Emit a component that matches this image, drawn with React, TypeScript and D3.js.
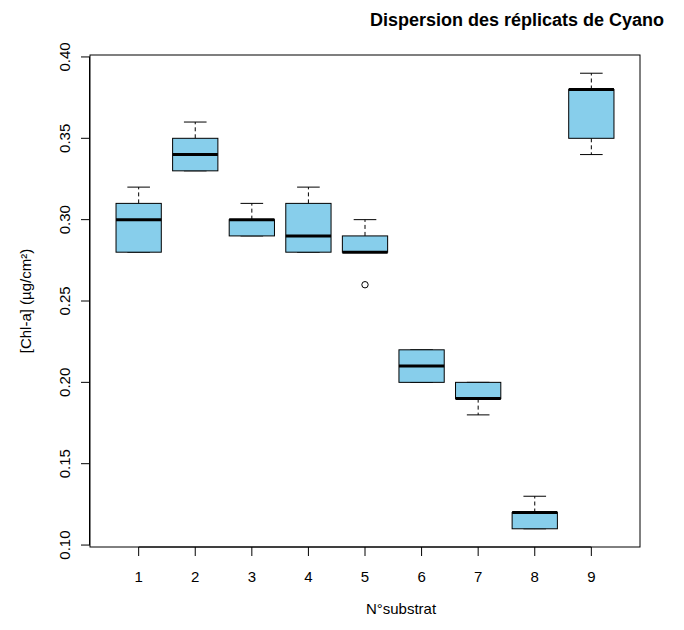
import * as d3 from 'd3';

const categories = [1, 2, 3, 4, 5, 6, 7, 8, 9];
const whiskerLow = [0.28, 0.33, 0.29, 0.28, 0.28, 0.2, 0.18, 0.11, 0.34];
const q1 = [0.28, 0.33, 0.29, 0.28, 0.28, 0.2, 0.19, 0.11, 0.35];
const medians = [0.3, 0.34, 0.3, 0.29, 0.28, 0.21, 0.19, 0.12, 0.38];
const q3 = [0.31, 0.35, 0.3, 0.31, 0.29, 0.22, 0.2, 0.12, 0.38];
const whiskerHigh = [0.32, 0.36, 0.31, 0.32, 0.3, 0.22, 0.2, 0.13, 0.39];
const outliers = [{ cat: 5, value: 0.26 }];
const yTicks = [0.1, 0.15, 0.2, 0.25, 0.3, 0.35, 0.4];

const W = 684;
const H = 630;
const plot = { left: 90, right: 640, top: 55, bottom: 547 };

export default function App() {
  const x = d3.scaleLinear().domain([0.14, 9.86]).range([plot.left, plot.right]);
  const y = d3.scaleLinear().domain([0.0988, 0.4012]).range([plot.bottom, plot.top]);
  const unit = x(1) - x(0);
  const boxW = unit * 0.8;
  const capW = boxW / 2;
  const font = 'Liberation Sans, Arial, Helvetica, sans-serif';
  const fs = 15;

  return (
    <div style={{ position: 'absolute', left: 0, top: 0 }}>
      <svg width={W} height={H} style={{ display: 'block', background: '#fff' }} fontFamily={font}>
        <text x={517} y={26} textAnchor="middle" fontSize={18} fontWeight="bold" fill="#000">
          Dispersion des réplicats de Cyano
        </text>

        {categories.map((c, i) => {
          const cx = x(c);
          return (
            <g key={c}>
              {/* whiskers */}
              <line x1={cx} x2={cx} y1={y(q3[i])} y2={y(whiskerHigh[i])} stroke="#000" strokeDasharray="4,3" />
              <line x1={cx} x2={cx} y1={y(q1[i])} y2={y(whiskerLow[i])} stroke="#000" strokeDasharray="4,3" />
              <line x1={cx - capW / 2} x2={cx + capW / 2} y1={y(whiskerHigh[i])} y2={y(whiskerHigh[i])} stroke="#000" />
              <line x1={cx - capW / 2} x2={cx + capW / 2} y1={y(whiskerLow[i])} y2={y(whiskerLow[i])} stroke="#000" />
              <rect
                x={cx - boxW / 2}
                y={y(q3[i])}
                width={boxW}
                height={Math.max(0, y(q1[i]) - y(q3[i]))}
                fill="#87CEEB"
                stroke="#000"
              />
              <line x1={cx - boxW / 2} x2={cx + boxW / 2} y1={y(medians[i])} y2={y(medians[i])} stroke="#000" strokeWidth={3} />
            </g>
          );
        })}

        {outliers.map((o, i) => (
          <circle key={i} cx={x(o.cat)} cy={y(o.value)} r={3.2} fill="none" stroke="#000" />
        ))}

        <rect
          x={plot.left}
          y={plot.top}
          width={plot.right - plot.left}
          height={plot.bottom - plot.top}
          fill="none"
          stroke="#000"
        />

        {/* y axis */}
        <line x1={plot.left - 0.5} x2={plot.left - 0.5} y1={y(0.1)} y2={y(0.4)} stroke="#000" />
        {yTicks.map(t => (
          <g key={t}>
            <line x1={plot.left - 9} x2={plot.left} y1={y(t)} y2={y(t)} stroke="#000" />
            <text
              transform={`translate(${plot.left - 20},${y(t)}) rotate(-90)`}
              textAnchor="middle"
              fontSize={fs}
              fill="#000"
            >
              {t.toFixed(2)}
            </text>
          </g>
        ))}

        {/* x axis */}
        {categories.map(c => (
          <g key={c}>
            <line x1={x(c)} x2={x(c)} y1={plot.bottom} y2={plot.bottom + 9} stroke="#000" />
            <text x={x(c)} y={plot.bottom + 35} textAnchor="middle" fontSize={fs} fill="#000">
              {c}
            </text>
          </g>
        ))}
        <line x1={x(1)} x2={x(9)} y1={plot.bottom} y2={plot.bottom} stroke="#000" />

        <text x={(plot.left + plot.right) / 2 + 36} y={614} textAnchor="middle" fontSize={fs} fill="#000">
          N°substrat
        </text>
        <text
          transform={`translate(${31},${(plot.top + plot.bottom) / 2}) rotate(-90)`}
          textAnchor="middle"
          fontSize={fs}
          fill="#000"
        >
          [Chl-a] (µg/cm²)
        </text>
      </svg>
    </div>
  );
}
